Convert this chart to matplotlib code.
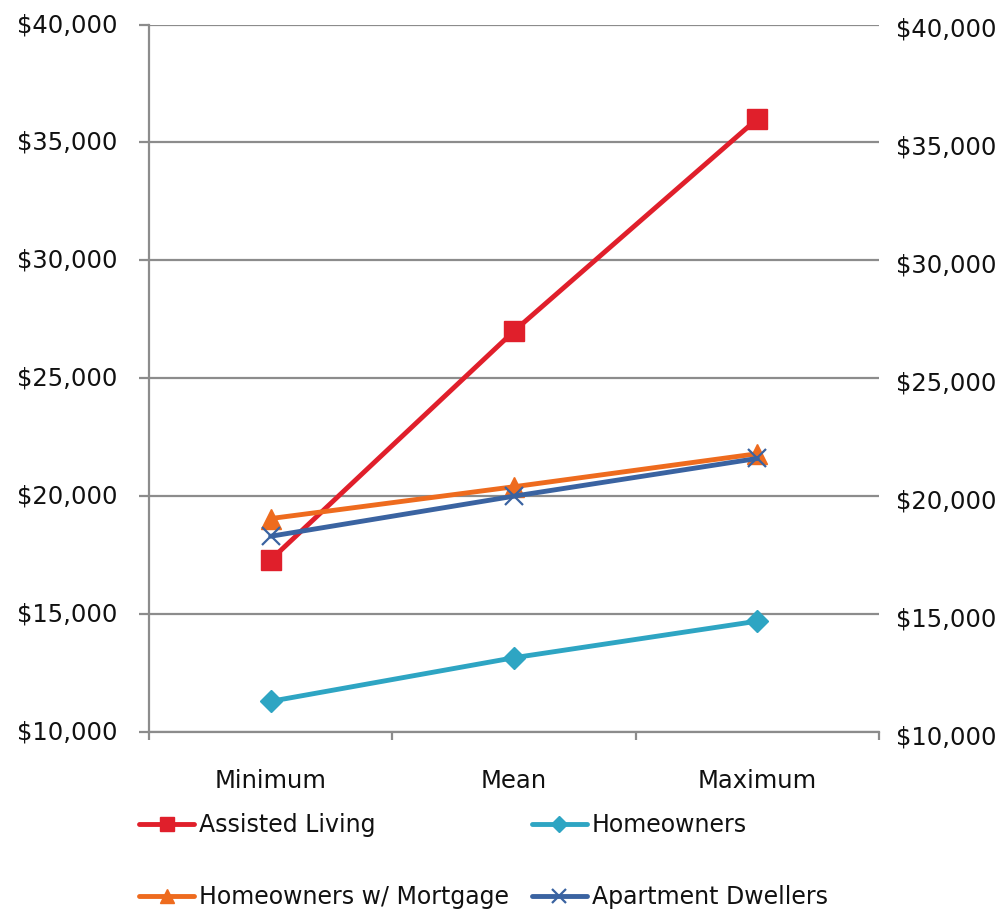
import matplotlib
matplotlib.use("Agg")
import matplotlib.pyplot as plt
from matplotlib.ticker import FuncFormatter, FixedLocator
from matplotlib.transforms import ScaledTranslation

categories = ["Minimum", "Mean", "Maximum"]
assisted_living = [17300, 27000, 36000]
homeowners = [11300, 13150, 14700]
homeowners_mortgage = [19050, 20400, 21800]
apartment_dwellers = [18300, 20000, 21600]
y_ticks = [10000, 15000, 20000, 25000, 30000, 35000, 40000]

series = [
    ("Assisted Living", assisted_living, "#E01F2B", "s", 14, 1.0),
    ("Homeowners", homeowners, "#2EA5C3", "D", 11, 1.0),
    ("Homeowners w/ Mortgage", homeowners_mortgage, "#EE6B1E", "^", 14, 1.0),
    ("Apartment Dwellers", apartment_dwellers, "#3A63A1", "x", 13, 1.6),
]

plt.rcParams["font.family"] = ["DejaVu Sans"]
FS = 17.5

fig = plt.figure(figsize=(10.02, 9.10), dpi=100)
ax = fig.add_axes([149 / 1002, 1 - 732 / 910, (879 - 149) / 1002, (732 - 24.5) / 910])

x = [0.5, 1.5, 2.5]
handles = {}
for name, vals, color, marker, ms, mew in series:
    h, = ax.plot(x, vals, color=color, lw=3.5, marker=marker, markersize=ms,
                 markeredgewidth=mew, markeredgecolor=color, markerfacecolor=color,
                 label=name, solid_capstyle="round", clip_on=False, zorder=3)
    handles[name] = h

grid_c = "#8C8C8C"
ax.set_xlim(0, 3)
ax.set_ylim(10000, 40000)
ax.yaxis.set_major_locator(FixedLocator(y_ticks))
money = FuncFormatter(lambda v, p: "${:,.0f}".format(v))
ax.yaxis.set_major_formatter(money)
ax.grid(axis="y", color=grid_c, lw=1.6, zorder=0)
ax.set_axisbelow(True)

for s in ["top", "right"]:
    ax.spines[s].set_visible(False)
for s in ["left", "bottom"]:
    ax.spines[s].set_color(grid_c)
    ax.spines[s].set_linewidth(1.6)

ax.tick_params(axis="y", length=7, width=1.6, color=grid_c, pad=16,
               labelsize=FS, labelcolor="#111111")
for lbl in ax.get_yticklabels():
    lbl.set_transform(lbl.get_transform() + ScaledTranslation(0, 2 / 100, fig.dpi_scale_trans))
ax.set_xticks([0, 1, 2, 3])
ax.set_xticklabels([])
ax.set_xticks(x, minor=True)
ax.set_xticklabels(categories, minor=True)
ax.tick_params(axis="x", which="major", length=6, width=1.6, color=grid_c, direction="out")
ax.tick_params(axis="x", which="minor", length=0, pad=27, labelsize=FS, labelcolor="#111111")

# Secondary axis on the right with the same scale
ax2 = ax.twinx()
ax2.set_ylim(ax.get_ylim())
ax2.yaxis.set_major_locator(FixedLocator(y_ticks))
ax2.yaxis.set_major_formatter(money)
for s in ["top", "right", "left", "bottom"]:
    ax2.spines[s].set_visible(False)
ax2.tick_params(axis="y", length=0, pad=12, labelsize=FS, labelcolor="#111111")
for lbl in ax2.get_yticklabels():
    lbl.set_transform(lbl.get_transform() + ScaledTranslation(0, -3 / 100, fig.dpi_scale_trans))

# Legend filled column by column: rows read Assisted/Homeowners, Mortgage/Apartment
order = ["Assisted Living", "Homeowners w/ Mortgage", "Homeowners", "Apartment Dwellers"]
leg = fig.legend([handles[n] for n in order], order, loc="upper left",
                 bbox_to_anchor=(139 / 1002, 1 - 813 / 910), ncol=2, frameon=False,
                 fontsize=17, borderpad=0, borderaxespad=0, handlelength=2.35,
                 handletextpad=0.2, columnspacing=0.95, labelspacing=2.05,
                 markerscale=0.75, numpoints=1)
for t in leg.get_texts():
    t.set_color("#111111")

fig.savefig("out.png", dpi=100, facecolor="white")
